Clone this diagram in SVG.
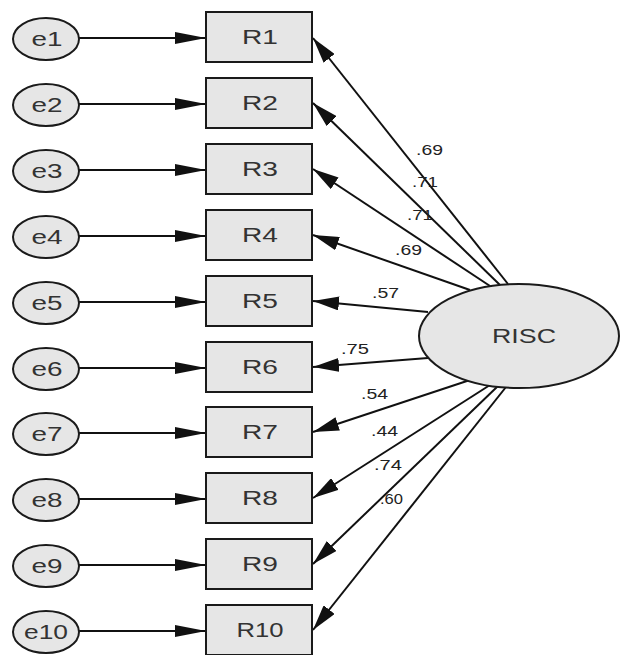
<svg xmlns="http://www.w3.org/2000/svg" width="621" height="655" viewBox="0 0 621 655">
<defs>
<style>
.obs{fill:#e6e6e6;stroke:#1a1a1a;stroke-width:2}
.err{fill:#e6e6e6;stroke:#1a1a1a;stroke-width:2}
.lat{fill:#e6e6e6;stroke:#1a1a1a;stroke-width:2}
.lbl{font-family:"Liberation Sans",Arial,sans-serif;font-size:20px;fill:#333;text-anchor:middle;dominant-baseline:central}
.coef{font-family:"Liberation Sans",Arial,sans-serif;font-size:15px;fill:#222}
.ln{stroke:#111;stroke-width:2;fill:none}
.h{marker-end:url(#ah)}
.d{marker-end:url(#ad)}
</style>
<marker id="ah" viewBox="0 0 31 12" markerWidth="31" markerHeight="12" refX="31" refY="6" orient="auto" markerUnits="userSpaceOnUse">
<path d="M0,0 L31,6 L0,12 z" fill="#111"/>
</marker>
<marker id="ad" viewBox="0 0 26 14" markerWidth="26" markerHeight="14" refX="26" refY="7" orient="auto" markerUnits="userSpaceOnUse">
<path d="M0,0 L26,7 L0,14 z" fill="#111"/>
</marker>
</defs>
<rect width="621" height="655" fill="#fff"/>

<g id="connectors">
<line class="ln h" x1="79" y1="38" x2="206" y2="38"/>
<line class="ln h" x1="79" y1="104" x2="206" y2="104"/>
<line class="ln h" x1="79" y1="170" x2="206" y2="170"/>
<line class="ln h" x1="79" y1="236" x2="206" y2="236"/>
<line class="ln h" x1="79" y1="302" x2="206" y2="302"/>
<line class="ln h" x1="79" y1="368" x2="206" y2="368"/>
<line class="ln h" x1="79" y1="433" x2="206" y2="433"/>
<line class="ln h" x1="79" y1="499" x2="206" y2="499"/>
<line class="ln h" x1="79" y1="565" x2="206" y2="565"/>
<line class="ln h" x1="79" y1="631" x2="206" y2="631"/>

<line class="ln d" x1="508" y1="284" x2="313" y2="38"/>
<line class="ln d" x1="500" y1="285" x2="313" y2="103"/>
<line class="ln d" x1="490" y1="286" x2="313" y2="169"/>
<line class="ln d" x1="470" y1="290" x2="313" y2="235"/>
<line class="ln d" x1="428" y1="312" x2="313" y2="301"/>
<line class="ln d" x1="428" y1="358" x2="313" y2="367"/>
<line class="ln d" x1="470" y1="380" x2="313" y2="432"/>
<line class="ln d" x1="490" y1="385" x2="313" y2="498"/>
<line class="ln d" x1="498" y1="386" x2="313" y2="564"/>
<line class="ln d" x1="506" y1="387" x2="313" y2="630"/>

<text class="coef" x="416" y="155" textLength="27" lengthAdjust="spacingAndGlyphs">.69</text>
<text class="coef" x="412" y="187" textLength="26" lengthAdjust="spacingAndGlyphs">.71</text>
<text class="coef" x="407" y="220" textLength="26" lengthAdjust="spacingAndGlyphs">.71</text>
<text class="coef" x="395" y="255" textLength="27" lengthAdjust="spacingAndGlyphs">.69</text>
<text class="coef" x="372" y="298" textLength="27" lengthAdjust="spacingAndGlyphs">.57</text>
<text class="coef" x="341" y="354" textLength="28" lengthAdjust="spacingAndGlyphs">.75</text>
<text class="coef" x="361" y="399" textLength="27" lengthAdjust="spacingAndGlyphs">.54</text>
<text class="coef" x="371" y="436" textLength="27" lengthAdjust="spacingAndGlyphs">.44</text>
<text class="coef" x="374" y="470" textLength="28" lengthAdjust="spacingAndGlyphs">.74</text>
<text class="coef" x="380" y="504" textLength="23" lengthAdjust="spacingAndGlyphs">.60</text>
</g>

<g id="e1"><ellipse class="err" cx="46" cy="39" rx="33" ry="21"/><text class="lbl" x="47" y="39" textLength="31" lengthAdjust="spacingAndGlyphs">e1</text></g>
<g id="e2"><ellipse class="err" cx="46" cy="105" rx="33" ry="21"/><text class="lbl" x="47" y="105" textLength="31" lengthAdjust="spacingAndGlyphs">e2</text></g>
<g id="e3"><ellipse class="err" cx="46" cy="171" rx="33" ry="21"/><text class="lbl" x="47" y="171" textLength="31" lengthAdjust="spacingAndGlyphs">e3</text></g>
<g id="e4"><ellipse class="err" cx="46" cy="237" rx="33" ry="21"/><text class="lbl" x="47" y="237" textLength="31" lengthAdjust="spacingAndGlyphs">e4</text></g>
<g id="e5"><ellipse class="err" cx="46" cy="303" rx="33" ry="21"/><text class="lbl" x="47" y="303" textLength="31" lengthAdjust="spacingAndGlyphs">e5</text></g>
<g id="e6"><ellipse class="err" cx="46" cy="369" rx="33" ry="21"/><text class="lbl" x="47" y="369" textLength="31" lengthAdjust="spacingAndGlyphs">e6</text></g>
<g id="e7"><ellipse class="err" cx="46" cy="434" rx="33" ry="21"/><text class="lbl" x="47" y="434" textLength="31" lengthAdjust="spacingAndGlyphs">e7</text></g>
<g id="e8"><ellipse class="err" cx="46" cy="500" rx="33" ry="21"/><text class="lbl" x="47" y="500" textLength="31" lengthAdjust="spacingAndGlyphs">e8</text></g>
<g id="e9"><ellipse class="err" cx="46" cy="566" rx="33" ry="21"/><text class="lbl" x="47" y="566" textLength="31" lengthAdjust="spacingAndGlyphs">e9</text></g>
<g id="e10"><ellipse class="err" cx="46" cy="632" rx="33" ry="21"/><text class="lbl" x="46" y="632" textLength="44" lengthAdjust="spacingAndGlyphs">e10</text></g>

<g id="R1"><rect class="obs" x="206" y="12" width="106" height="50"/><text class="lbl" x="260" y="37" textLength="36" lengthAdjust="spacingAndGlyphs">R1</text></g>
<g id="R2"><rect class="obs" x="206" y="78" width="106" height="50"/><text class="lbl" x="260" y="103" textLength="36" lengthAdjust="spacingAndGlyphs">R2</text></g>
<g id="R3"><rect class="obs" x="206" y="144" width="106" height="50"/><text class="lbl" x="260" y="169" textLength="36" lengthAdjust="spacingAndGlyphs">R3</text></g>
<g id="R4"><rect class="obs" x="206" y="210" width="106" height="50"/><text class="lbl" x="260" y="235" textLength="36" lengthAdjust="spacingAndGlyphs">R4</text></g>
<g id="R5"><rect class="obs" x="206" y="276" width="106" height="50"/><text class="lbl" x="260" y="301" textLength="36" lengthAdjust="spacingAndGlyphs">R5</text></g>
<g id="R6"><rect class="obs" x="206" y="342" width="106" height="50"/><text class="lbl" x="260" y="367" textLength="36" lengthAdjust="spacingAndGlyphs">R6</text></g>
<g id="R7"><rect class="obs" x="206" y="407" width="106" height="50"/><text class="lbl" x="260" y="432" textLength="36" lengthAdjust="spacingAndGlyphs">R7</text></g>
<g id="R8"><rect class="obs" x="206" y="473" width="106" height="50"/><text class="lbl" x="260" y="498" textLength="36" lengthAdjust="spacingAndGlyphs">R8</text></g>
<g id="R9"><rect class="obs" x="206" y="539" width="106" height="50"/><text class="lbl" x="260" y="564" textLength="36" lengthAdjust="spacingAndGlyphs">R9</text></g>
<g id="R10"><rect class="obs" x="206" y="605" width="106" height="50"/><text class="lbl" x="260" y="630" textLength="47" lengthAdjust="spacingAndGlyphs">R10</text></g>

<g id="RISC"><ellipse class="lat" cx="519" cy="336" rx="100" ry="52"/><text class="lbl" x="524" y="336" textLength="64" lengthAdjust="spacingAndGlyphs">RISC</text></g>
</svg>
